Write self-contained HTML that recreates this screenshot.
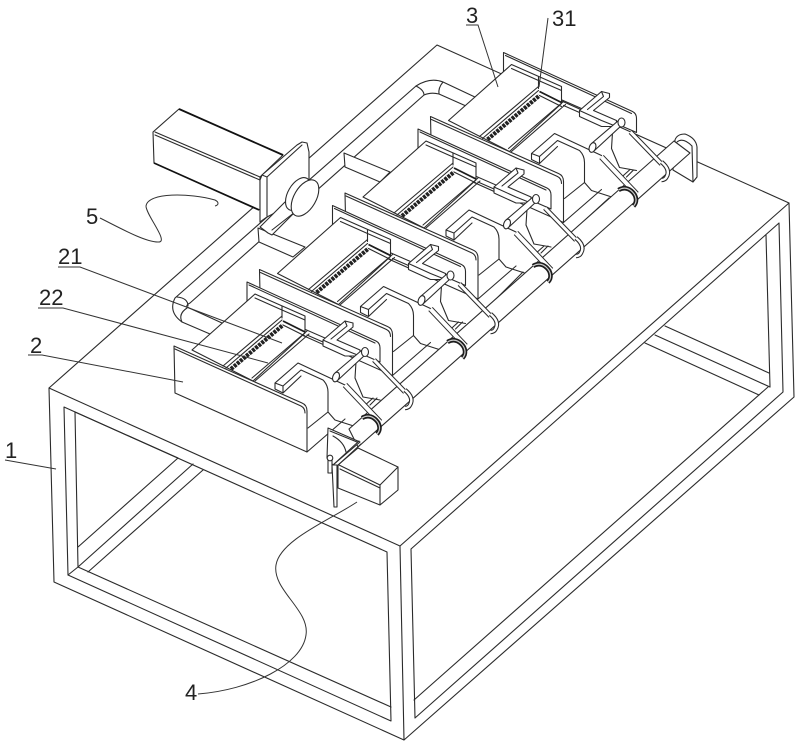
<!DOCTYPE html>
<html><head><meta charset="utf-8"><style>
html,body{margin:0;padding:0;background:#fff;width:800px;height:747px;overflow:hidden}
svg{display:block}
.l{fill:none;stroke:#2b2b2b;stroke-width:1.1;stroke-linejoin:round;stroke-linecap:round}
.f{fill:#fff;stroke:#2b2b2b;stroke-width:1.1;stroke-linejoin:round}
.w{fill:#fff;stroke:none}
.t{fill:none;stroke:#1c1c1c;stroke-width:1.8;stroke-linejoin:round}
.ld{fill:none;stroke:#333;stroke-width:1}
text{font-family:"Liberation Sans",sans-serif;font-size:22px;fill:#222}
</style></head><body>
<svg width="800" height="747" viewBox="0 0 800 747" xmlns="http://www.w3.org/2000/svg">
<defs>
<g id="unit">
  <!-- back plate -->
  <path class="f" d="M247,282 L376,341 Q380,343 380,348 L380,362 L247,304 Z"/>
  <path class="l" d="M249,285 L375,343"/>
  <!-- tray -->
  <path class="f" d="M192,350 L255,294 L305,316 L305,333 L253,381 Z"/>
  <path class="l" d="M255,298 L282,310 M282,306 L282,318 M282,310 L305,320"/>
  <path class="l" d="M223,366 L282,316 M226,368 L282,320"/>
  <path d="M231,369 L283,325" stroke="#222" stroke-width="4.2" stroke-dasharray="3 1" fill="none"/>
  <path class="t" d="M283,321 L305,332"/>
  <path class="l" d="M283,325 L305,336"/>
  <path class="l" d="M252,378 L307,331 M255,381 L309,334"/>
  <path class="l" d="M307,335 L323,342"/>
  <!-- U bracket -->
  <path class="w" d="M283,385 L301,370 L323,380 L345,386 L370,400 L345,419 L307,452 L307,410 Z"/>
  <path class="l" d="M275,383 L298,363 L345,385 M275,383 L275,389 L283,393 L283,386 L275,383 M283,386 L301,370 L323,380 Q328,385 328,392 L328,412 L335,420 L363,429 M283,393 L301,376"/>
  <path class="l" d="M308,428 L328,412 M307,452 L345,419"/>
  <path class="l" d="M356,362 L355,378 L363,397 L380,400"/>
  <!-- L bracket -->
  <path class="f" d="M323,340 L345,321 L353,323 L353,327 L337,340 L360,350 L360,356 L345,356 L323,346 Z"/>
  <path class="l" d="M323,340 L345,350 L360,356 M345,321 L347,326 L331,339"/>
  <!-- rod -->
  <path class="f" d="M335,373 L362,350 L365,355 L338,380 Z"/>
  <ellipse class="f" cx="365" cy="352" rx="3.5" ry="4.5"/>
  <ellipse class="f" cx="336" cy="377" rx="3.2" ry="5" transform="rotate(20 336 377)"/>
  <!-- front plate -->
  <path class="f" d="M174,346 L302,403 Q307,405 307,411 L307,452 L175,393 Z"/>
  <path class="l" d="M175,349 L301,406 Q305,408 305,413"/>
</g>
<g id="arm">
  <path class="l" d="M363,407 L373,398 M370,405 L377,398"/>
  <path d="M345,385 L380,422" stroke="#2b2b2b" stroke-width="6" fill="none"/>
  <path d="M345,385 L380,422" stroke="#fff" stroke-width="4" fill="none"/>
  <path d="M374,360 L405,392" stroke="#2b2b2b" stroke-width="5" fill="none"/>
  <path d="M374,360 L405,392" stroke="#fff" stroke-width="3" fill="none"/>
  <path d="M362,418 C367,415 372,416 376,420 C380,424 381,430 377,434" stroke="#1c1c1c" stroke-width="4.5" fill="none"/>
  <path d="M362,418 C367,415 372,416 376,420 C380,424 381,430 377,434" stroke="#ccc" stroke-width="1.2" fill="none"/>
  <path d="M405,390 C411,395 413,400 410,405 C409,407 407,408 405,408" stroke="#2b2b2b" stroke-width="4.5" fill="none"/>
  <path d="M405,390 C411,395 413,400 410,405 C409,407 407,408 405,408" stroke="#fff" stroke-width="2.4" fill="none"/>
</g>
</defs>

<!-- table -->
<g class="l">
  <path d="M49,388 L437,45 L789,203 L400,546 Z"/>
  <path d="M49,388 L54,582 L404,740 L794,397 L789,203"/>
  <path d="M400,546 L404,740"/>
  <path d="M64,407 L387,552 L391,721 L68,575 Z"/>
  <path d="M75,412 L178,458 M75,412 L78,567 M78,547 L178,458 M78,567 L193,464 M88,572 L203,470 M68,575 L78,567 M78,567 L391,707"/>
  <path d="M411,549 L779,223 L783,392 L415,718 Z"/>
  <path d="M414,700 L768,387 M766,235 L770,387"/>
  <path d="M665,326 L769,373 M655,335 L770,387 M645,343 L759,395"/>
</g>

<!-- pipe -->
<path class="w" d="M175,298 L416,86 Q430,77 443,82 L477,98 L466,106 L439,94 Q431,92 424,95 L190,303 Q186,305 187,307 L222,323 L210,334 L182,322 Q168,312 175,298 Z"/>
<path class="l" d="M175,298 L416,86 Q430,77 443,82 L477,98 M466,106 L439,94 Q431,92 424,95 L190,303 Q186,305 187,307 L222,323 M210,334 L182,322 Q168,312 175,298"/>
<path class="l" d="M416,86 Q424,90 424,95 M443,82 Q438,88 439,94"/>
<path class="l" d="M177,297 Q188,298 188,306 M182,322 Q178,314 187,308"/>
<!-- baffles -->
<path class="f" d="M258,228 L305,247 L293,257 L259,242 Z"/>
<path class="f" d="M344,153 L390,172 L380,182 L345,167 Z"/>

<!-- left motor -->
<path class="f" d="M179,109 L283,155 L260,177 L260,210 L154,163 L153,132 Z"/>
<path d="M179,109 L283,155" stroke="#111" stroke-width="1.8"/>
<path d="M154,163 L259,210" stroke="#111" stroke-width="1.6"/>
<path class="l" d="M155,132 L260,177 M155,135 L260,180"/>
<path class="f" d="M260,180 L262,175 L297,145 L302,142 L307,143 L309,152 L309,178 L309,195 L267,217 L260,222 Z"/>
<path class="l" d="M267,177 L267,216 M262,175 L267,177 L302,145"/>
<path class="f" d="M260,227 L285,202 L300,208 L295,212 L272,235 L268,233 Z"/>
<path class="l" d="M272,230 L295,212"/>
<ellipse class="f" cx="298" cy="194" rx="10" ry="18" transform="rotate(30 298 194)"/>
<ellipse class="f" cx="305" cy="198" rx="11" ry="20" transform="rotate(30 305 198)"/>

<!-- units, back to front -->
<use href="#unit" transform="translate(256.5,-229.5)"/>
<use href="#unit" transform="translate(171,-153)"/>
<use href="#unit" transform="translate(85.5,-76.5)"/>
<use href="#unit"/>
<path class="l" d="M402,383 L438,351 M488,307 L523,272 M573,231 L609,198"/>

<!-- end bracket -->
<path class="f" d="M673,170 L693,182 L697,177 L697,147 Q696,138 685,134 Q677,134 675,140 Z"/>
<path class="l" d="M677,142 Q683,137 692,146 L693,182"/>
<!-- main shaft -->
<path class="f" d="M349,429 L674,141 L690,153 L358,447 Z"/>
<use href="#arm"/>
<use href="#arm" transform="translate(85.5,-76)"/>
<use href="#arm" transform="translate(171,-152)"/>
<use href="#arm" transform="translate(256.5,-228)"/>

<!-- right motor -->
<path class="f" d="M358,448 L398,467 L398,490 L380,505 L338,488 L338,465 Z"/>
<path class="l" d="M339,465 L380,485 L398,467 M380,485 L380,505 M340,469 L380,488"/>
<path class="f" d="M328,428 L360,442 L333,465 L327,458 Z"/>
<path class="l" d="M330,431 L357,442 M359,441 L333,465 M361,444 L336,467 M333,436 Q344,442 346,452"/>
<path class="f" d="M328,458 L328,473 L332,473 L332,460 Z"/>
<path class="f" d="M332,465 L337,465 L337,507 L334,507 Z"/>
<circle class="f" cx="330" cy="458" r="2.8"/>

<!-- leaders -->
<path class="ld" d="M58,267 L80,267 L282,343"/>
<path class="ld" d="M38,308 L63,308 L268,363"/>
<path class="ld" d="M28,355 L42,355 L183,382"/>
<path class="ld" d="M5,460 L56,469"/>
<path class="ld" d="M466,25 L478,25 L498,87"/>
<path class="ld" d="M548,18 L539,87"/>
<path class="ld" d="M100,218 C120,228 145,242 158,242 C170,243 146,215 146,206 C148,192 190,193 215,200 C219,202 219,205 215,206"/>
<path class="ld" d="M357,502 C330,520 280,540 276,565 C272,590 310,610 306,635 C302,665 250,690 198,694"/>

<text x="5" y="458">1</text>
<text x="30" y="353">2</text>
<text x="39" y="305">22</text>
<text x="58" y="264">21</text>
<text x="86" y="224">5</text>
<text x="466" y="23">3</text>
<text x="552" y="26">31</text>
<text x="185" y="700">4</text>
</svg>
</body></html>
